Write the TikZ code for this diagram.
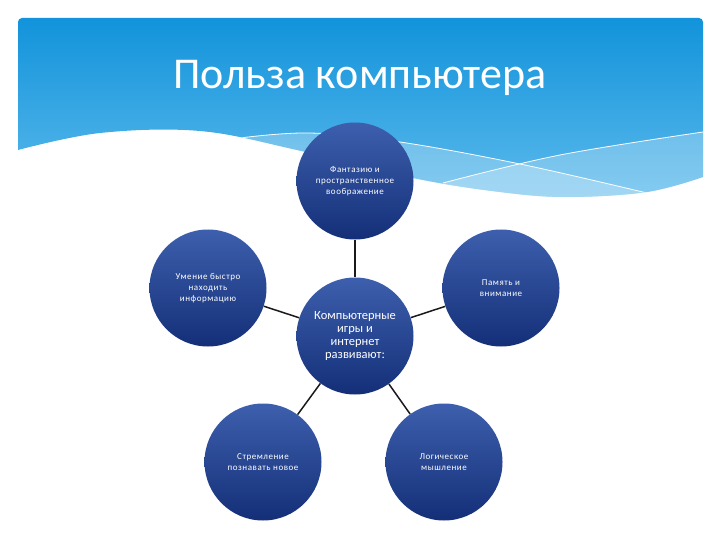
\documentclass[tikz,border=0pt]{standalone}
\usepackage{fontspec}
\setmainfont{Carlito}
\newfontfamily\smallfont[LetterSpace=6]{Carlito}
\definecolor{hdrtop}{HTML}{1293DB}
\definecolor{hdrbot}{HTML}{5CBAEC}
\definecolor{ctop}{HTML}{3D5FAD}
\definecolor{cbot}{HTML}{142F78}
\definecolor{linkcol}{HTML}{1A1A1A}
\begin{document}
\begin{tikzpicture}[x=1pt,y=-1pt,
  bubble/.style={circle, minimum size=117pt, inner sep=0pt, text=white, align=center,
    top color=ctop, bottom color=cbot, font=\smallfont\fontsize{9}{11}\selectfont},
  hub/.style={bubble, font=\fontsize{12.5}{13.2}\selectfont},
  link/.style={draw=linkcol, line width=1.5pt},
  wline/.style={white, line width=0.8pt}]
\useasboundingbox (0,0) rectangle (720,540);
\fill[white] (0,0) rectangle (720,540);
% header
\begin{scope}
\clip (18,150) -- (18,22) arc[start angle=180, end angle=90, radius=4pt] -- (699,18)
  arc[start angle=90, end angle=0, radius=4pt] -- (703,177)
  -- plot[smooth, tension=0.6] coordinates {(703,177) (647,192) (567,197) (500,192) (413,178) (297,150) (200,131) (100,133) (18,150)} -- cycle;
\shade[top color=hdrtop, bottom color=hdrbot] (18,18) rectangle (703,200);
\fill[white, opacity=0.25] (240,138) -- plot[smooth, tension=0.6] coordinates {(240,138) (310,133) (400,142) (520,164) (647,193)} -- (703,210) -- (703,260) -- (240,260) -- cycle;
\fill[white, opacity=0.25] (443,183) -- plot[smooth, tension=0.6] coordinates {(443,183) (560,155) (703,132)} -- (703,260) -- (443,260) -- cycle;
\draw[wline] plot[smooth, tension=0.6] coordinates {(240,138) (310,133) (400,142) (520,164) (647,193)};
\draw[wline] plot[smooth, tension=0.6] coordinates {(443,183) (560,155) (703,132)};
\end{scope}
\node[text=white, font=\fontsize{44}{46}\selectfont] (title) at (360,78) {Польза компьютера};
% nodes
\node[hub] (c) at (355,336) {Компьютерные\\игры и\\интернет\\развивают:};
\node[bubble] (t) at (355,181) {Фантазию и\\пространственное\\воображение};
\node[bubble] (l) at (208,288) {Умение быстро\\находить\\информацию};
\node[bubble] (r) at (501,288) {Память и\\внимание};
\node[bubble] (bl) at (263,462) {Стремление\\познавать новое};
\node[bubble] (br) at (444,462) {Логическое\\мышление};
\draw[link] (c) -- (t);
\draw[link] (c) -- (l);
\draw[link] (c) -- (r);
\draw[link] (c) -- (bl);
\draw[link] (c) -- (br);
\end{tikzpicture}
\end{document}
